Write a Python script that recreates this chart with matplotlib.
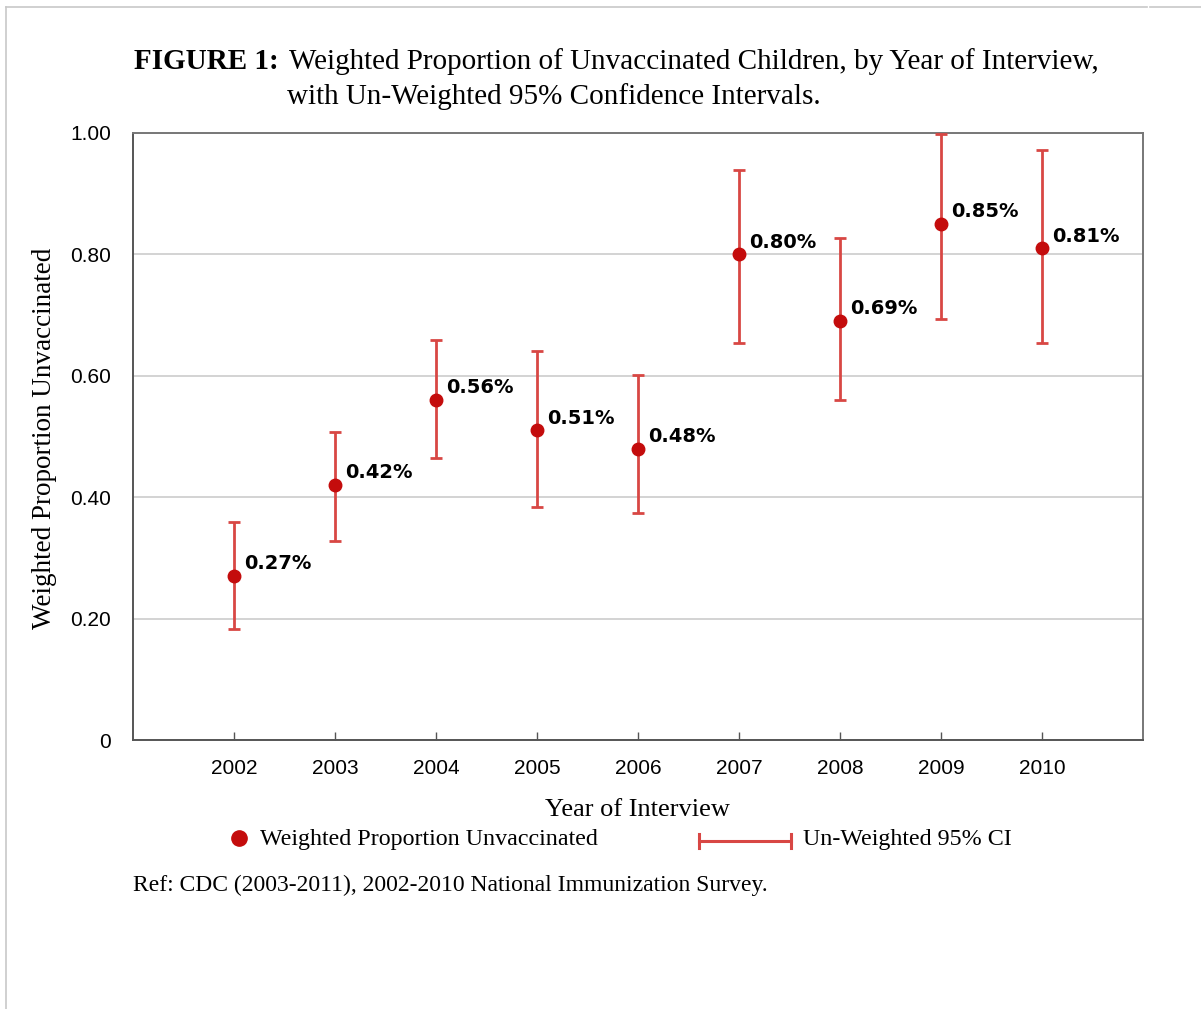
import matplotlib.pyplot as plt
from matplotlib.lines import Line2D

years = [2002, 2003, 2004, 2005, 2006, 2007, 2008, 2009, 2010]
proportion = [0.27, 0.42, 0.56, 0.51, 0.48, 0.80, 0.69, 0.85, 0.81]
ci_low = [0.183, 0.328, 0.465, 0.384, 0.374, 0.654, 0.560, 0.694, 0.654]
ci_high = [0.359, 0.507, 0.659, 0.641, 0.601, 0.939, 0.827, 0.998, 0.972]
point_labels = ["0.27%", "0.42%", "0.56%", "0.51%", "0.48%", "0.80%", "0.69%", "0.85%", "0.81%"]
y_ticks = [0, 0.2, 0.4, 0.6, 0.8, 1.0]
y_tick_labels = ["0", "0.20", "0.40", "0.60", "0.80", "1.00"]

W, H = 1201, 1009
SERIF = "Liberation Serif"
SANS = "Liberation Sans"
BAR_RED = "#d84744"
DOT_RED = "#c40c0c"


def fx(px):
    return px / W


def fy(py):
    return 1 - py / H


fig = plt.figure(figsize=(W / 100, H / 100), dpi=100)
ax = fig.add_axes([fx(133), fy(740), fx(1143) - fx(133), fy(133) - fy(740)])

# error bars + points
yerr = [[p - lo for p, lo in zip(proportion, ci_low)],
        [hi - p for p, hi in zip(proportion, ci_high)]]
ax.errorbar(years, proportion, yerr=yerr, fmt="none", ecolor=BAR_RED,
            elinewidth=2.0, capsize=4, capthick=2.0, zorder=3)
ax.plot(years, proportion, "o", color=DOT_RED, markersize=9, zorder=4)

for x, y, lab in zip(years, proportion, point_labels):
    ax.annotate(lab, (x, y), xytext=(7, 2), textcoords="offset points",
                fontsize=14, fontweight="bold", family="DejaVu Sans",
                ha="left", va="bottom", color="black")

ax.set_xlim(2001, 2011)
ax.set_ylim(0, 1.0)
ax.set_xticks(years)
ax.set_xticklabels([str(y) for y in years], fontsize=15, family=SANS)
ax.set_yticks(y_ticks)
ax.set_yticklabels(y_tick_labels, fontsize=15, family=SANS)
ax.tick_params(axis="x", direction="in", length=6, width=1, color="#555555", pad=14)
ax.tick_params(axis="y", length=0, pad=16)
ax.grid(axis="y", color="#cccccc", linewidth=1.2)
ax.set_axisbelow(True)
for side in ["left", "bottom"]:
    ax.spines[side].set_color("#555555")
    ax.spines[side].set_linewidth(1.4)
for side in ["top", "right"]:
    ax.spines[side].set_color("#777777")
    ax.spines[side].set_linewidth(1.4)

# titles and labels
fig.text(fx(134), fy(69), "FIGURE 1:", family=SERIF, fontweight="bold",
         fontsize=21, ha="left", va="baseline")
fig.text(fx(289), fy(69), "Weighted Proportion of Unvaccinated Children, by Year of Interview,",
         family=SERIF, fontsize=21, ha="left", va="baseline")
fig.text(fx(287), fy(104), "with Un-Weighted 95% Confidence Intervals.",
         family=SERIF, fontsize=21, ha="left", va="baseline")
fig.text(fx(45), fy(438), "Weighted Proportion Unvaccinated", family=SERIF,
         fontsize=19.5, rotation=90, ha="center", va="center")
fig.text(fx(637), fy(810), "Year of Interview", family=SERIF, fontsize=19,
         ha="center", va="center")

# legend, drawn by hand
fig.add_artist(Line2D([fx(239)], [fy(838)], marker="o", color=DOT_RED,
                      markersize=11, linestyle="none"))
fig.text(fx(260), fy(840), "Weighted Proportion Unvaccinated", family=SERIF,
         fontsize=17.3, ha="left", va="center")
fig.add_artist(Line2D([fx(699), fx(791)], [fy(841), fy(841)], color=BAR_RED, linewidth=2.2))
for xc in [699, 791]:
    fig.add_artist(Line2D([fx(xc), fx(xc)], [fy(834), fy(848)], color=BAR_RED, linewidth=2.2))
fig.text(fx(803), fy(840), "Un-Weighted 95% CI", family=SERIF, fontsize=17.3,
         ha="left", va="center")

fig.text(fx(133), fy(885), "Ref: CDC (2003-2011), 2002-2010 National Immunization Survey.",
         family=SERIF, fontsize=17, ha="left", va="center")

# page frame lines
fig.add_artist(Line2D([fx(6), fx(1147)], [fy(7), fy(7)], color="#c8c8c8", linewidth=1.2))
fig.add_artist(Line2D([fx(1150), fx(1201)], [fy(7), fy(7)], color="#c8c8c8", linewidth=1.2))
fig.add_artist(Line2D([fx(6), fx(6)], [fy(7), fy(1009)], color="#c8c8c8", linewidth=1.2))

fig.savefig("out.png", dpi=100)
